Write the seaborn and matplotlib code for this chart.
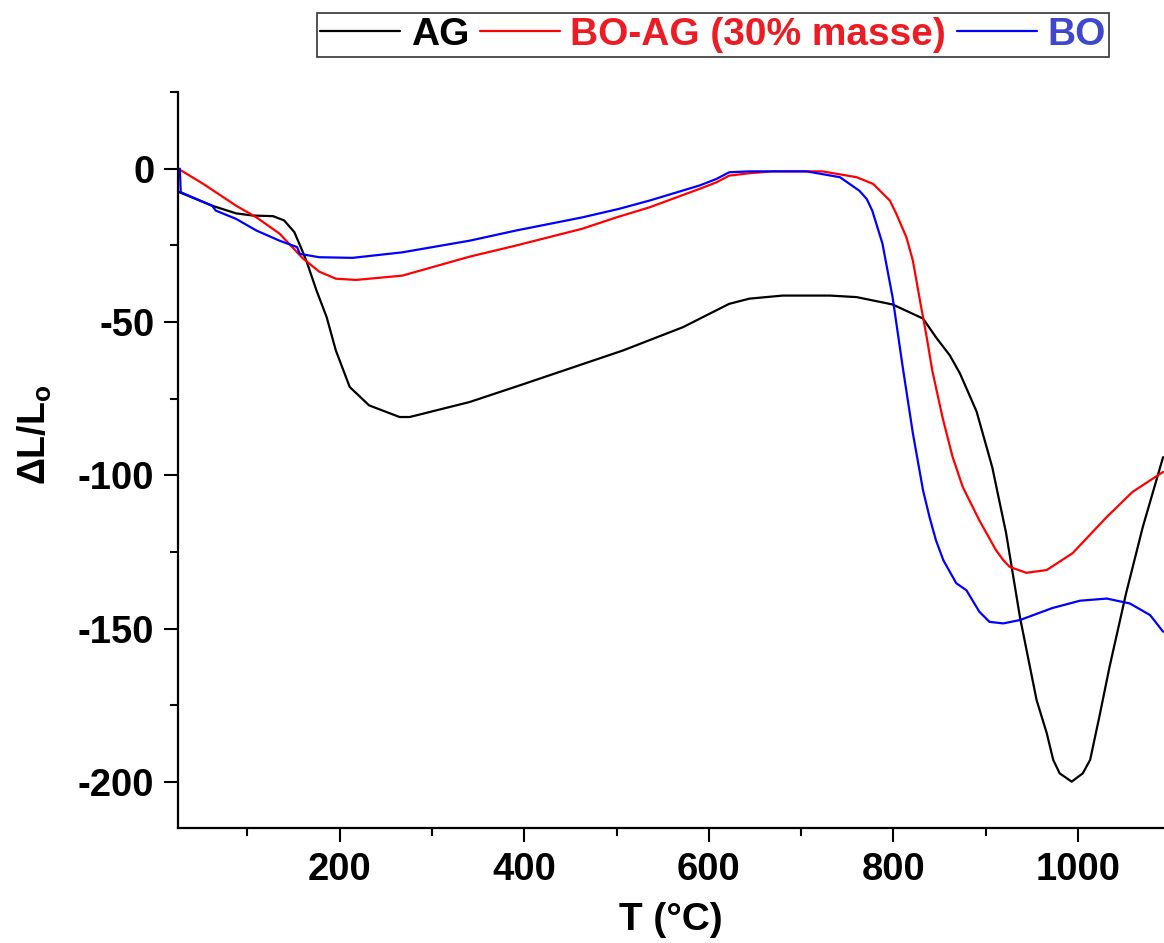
import pandas as pd
import matplotlib
matplotlib.use("Agg")
import matplotlib.pyplot as plt
from matplotlib.ticker import MultipleLocator
import seaborn as sns

# données (T en °C, dL/L0)
t_ag = [25, 62, 88, 106, 128, 140, 151, 158, 164, 175, 186, 196, 211, 232, 265, 276,
        341, 395, 507, 572, 622, 644, 680, 731, 760, 799, 832, 846, 861, 872, 890,
        907, 922, 937, 955, 966, 973, 980, 993, 1005, 1013, 1023, 1034, 1052, 1070, 1092]
dl_ag = [-7.5, -12.1, -14.6, -15.3, -15.5, -16.9, -20.7, -25.6, -30.0, -39.7, -48.4,
         -59.3, -71.2, -77.2, -81.0, -81.0, -76.1, -70.7, -59.3, -51.7, -44.1, -42.4,
         -41.4, -41.4, -41.9, -44.3, -48.9, -55.0, -60.9, -66.8, -79.2, -97.4, -118.9,
         -146.3, -173.3, -184.1, -192.8, -197.2, -199.9, -197.2, -192.8, -178.7, -162.5,
         -138.4, -116.9, -94.1]

t_boag = [25, 52, 88, 110, 135, 160, 178, 196, 218, 268, 341, 391, 463, 500, 536, 590,
          608, 622, 644, 669, 723, 760, 778, 796, 803, 814, 821, 828, 836, 842, 853, 864,
          875, 893, 911, 919, 926, 944, 966, 994, 1031, 1059, 1092]
dl_boag = [0.0, -4.9, -12.1, -15.9, -21.2, -29.2, -33.6, -35.9, -36.3, -34.9, -28.7,
           -25.1, -19.6, -15.9, -12.6, -6.6, -4.5, -2.3, -1.5, -0.9, -0.9, -2.8, -5.0,
           -10.4, -14.7, -22.4, -30.0, -41.9, -55.0, -65.8, -81.0, -94.0, -103.8, -114.7,
           -124.4, -127.7, -129.9, -131.8, -130.9, -125.4, -113.6, -105.4, -98.9]

t_bo = [27, 28, 62, 66, 88, 110, 135, 154, 157, 178, 214, 268, 341, 391, 463, 503,
        536, 590, 608, 622, 644, 706, 742, 763, 771, 777, 788, 799, 810, 821, 832, 839,
        846, 854, 868, 879, 893, 904, 919, 937, 972, 1002, 1031, 1056, 1078, 1092]
dl_bo = [0.0, -7.7, -12.1, -13.7, -16.4, -20.2, -23.5, -25.6, -27.8, -28.9, -29.1,
         -27.3, -23.5, -20.2, -15.9, -13.1, -10.4, -5.5, -3.4, -1.2, -0.9, -0.9, -2.8,
         -7.2, -9.9, -13.7, -24.4, -41.9, -64.7, -86.3, -104.9, -113.6, -121.2, -127.7,
         -135.2, -137.5, -144.5, -147.8, -148.3, -147.2, -143.3, -140.9, -140.2, -141.8,
         -145.6, -151.0]

labels = ["AG", "BO-AG (30% masse)", "BO"]
line_colors = ["#000000", "#ff0000", "#0000ff"]
text_colors = ["#000000", "#ec1c24", "#3f48cc"]

sns.set_style("ticks")
plt.rcParams["font.family"] = ["Liberation Sans", "DejaVu Sans"]
plt.rcParams["font.weight"] = "bold"
plt.rcParams["mathtext.fontset"] = "custom"
plt.rcParams["mathtext.rm"] = "Liberation Sans:bold"
plt.rcParams["axes.unicode_minus"] = False
for key in ["text.color", "axes.labelcolor", "xtick.color", "ytick.color", "axes.edgecolor"]:
    plt.rcParams[key] = "black"

fig = plt.figure(figsize=(11.64, 9.43), dpi=100)
ax = fig.add_axes([0.1529, 0.1220, 0.8471, 0.7805])

series = [(t_ag, dl_ag), (t_boag, dl_boag), (t_bo, dl_bo)]
for (t, dl), lab, col in zip(series, labels, line_colors):
    df = pd.DataFrame({"T": t, "dL": dl})
    sns.lineplot(data=df, x="T", y="dL", color=col, linewidth=1.6, sort=False,
                 estimator=None, label=lab, ax=ax)

ax.set_xlim(25, 1093)
ax.set_ylim(-215, 25)
ax.xaxis.set_major_locator(MultipleLocator(200))
ax.xaxis.set_minor_locator(MultipleLocator(100))
ax.yaxis.set_major_locator(MultipleLocator(50))
ax.yaxis.set_minor_locator(MultipleLocator(25))
ax.tick_params(which="major", length=10, width=1.5, labelsize=27.5, pad=7)
ax.tick_params(which="minor", length=5.5, width=1.5)
for lab in ax.get_xticklabels() + ax.get_yticklabels():
    lab.set_fontweight("bold")

sns.despine(ax=ax)
ax.spines["left"].set_linewidth(1.6)
ax.spines["bottom"].set_linewidth(1.6)

ax.set_xlabel("T (°C)", fontsize=28, fontweight="bold")
ax.set_ylabel("ΔL/L$_\\mathrm{o}$", fontsize=27, fontweight="bold")
ax.xaxis.set_label_coords(0.5, -0.1)
ax.yaxis.set_label_coords(-0.126, 0.534)

leg = ax.legend(loc="center", bbox_to_anchor=(0.6125, 0.963), bbox_transform=fig.transFigure,
                ncol=3, frameon=True, fancybox=False, fontsize=28, handlelength=2.05,
                handletextpad=0.27, columnspacing=0.28, borderpad=0.1, borderaxespad=0)
leg.get_frame().set_edgecolor("black")
leg.get_frame().set_linewidth(1.2)
for txt, c in zip(leg.get_texts(), text_colors):
    txt.set_color(c)
    txt.set_fontweight("bold")

fig.savefig("out.png", dpi=100)
